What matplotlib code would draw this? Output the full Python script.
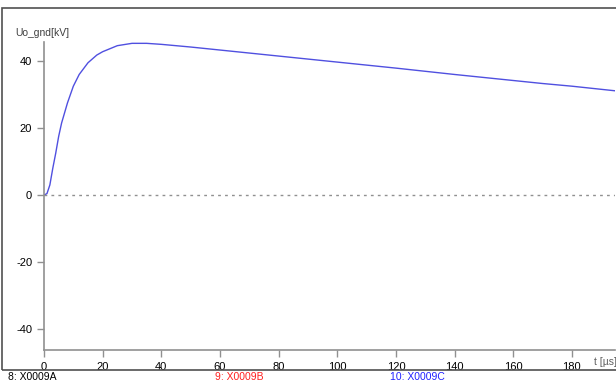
import numpy as np
import matplotlib.pyplot as plt
from matplotlib.patches import Rectangle

# waveform
t_us = [0, 1, 2, 3, 4, 5, 6, 8, 10, 12, 15, 18, 20, 25, 30, 35, 40, 50, 60,
        80, 100, 120, 140, 160, 170, 180, 195]
u_kv = [0, 0.4, 3.0, 8.0, 12.5, 17.5, 21.5, 27.5, 32.5, 36.0, 39.5, 41.8, 42.8,
        44.6, 45.3, 45.3, 45.0, 44.2, 43.3, 41.5, 39.7, 37.9, 36.0, 34.2, 33.3,
        32.5, 31.1]

xticks = [0, 20, 40, 60, 80, 100, 120, 140, 160, 180]
yticks = [-40, -20, 0, 20, 40]
channels = ['8: X0009A', '9: X0009B', '10: X0009C']
ch_colors = ['#000000', '#ff2020', '#2020ff']
ch_x = [8, 215, 390]

plt.rcParams['font.family'] = ['Liberation Sans', 'DejaVu Sans']
plt.rcParams['axes.unicode_minus'] = False
fig = plt.figure(figsize=(6.16, 3.83), dpi=100)
W, H = 616, 383

ax = fig.add_axes([44 / W, 1 - 350 / H, (615 - 44) / W, (350 - 42) / H])
ax.plot(t_us, u_kv, color='#5050e0', lw=1.0)
ax.axhline(0, color='#909090', lw=1, ls=(0, (2, 3)))
ax.set_xlim(0, 194.7)
ax.set_ylim(-46.3, 45.7)
ax.set_xticks(xticks)
ax.set_yticks(yticks)
for s in ['top', 'right']:
    ax.spines[s].set_visible(False)
for s in ['left', 'bottom']:
    ax.spines[s].set_color('#909090')
    ax.spines[s].set_linewidth(1.2)
ax.tick_params(colors='#909090', labelcolor='black', labelsize=8, length=5,
               width=1)

fig.text(15 / W, 1 - 33 / H, 'Uo_gnd[kV]', fontsize=7.5, color='#404040',
         va='center', ha='left')
fig.text(594 / W, 1 - 362 / H, 't [µs]', fontsize=7.5, color='#606060',
         va='center', ha='left')

# outer frame of the scope view
fig.patches.append(Rectangle((2 / W, 1 - 370 / H), 640 / W, 362 / H,
                             transform=fig.transFigure, fill=False,
                             edgecolor='#505050', lw=1.2))

for name, c, x in zip(channels, ch_colors, ch_x):
    fig.text(x / W, 1 - 377 / H, name, color=c, fontsize=7.5,
             va='center', ha='left')

fig.savefig('out.png', dpi=100)
